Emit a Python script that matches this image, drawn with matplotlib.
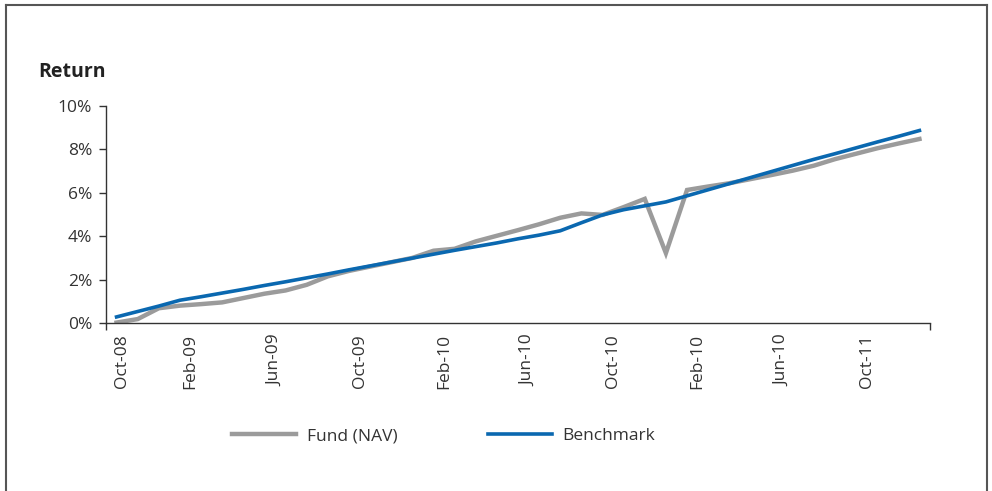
import matplotlib.pyplot as plt
from matplotlib.lines import Line2D
from matplotlib.ticker import FixedLocator, PercentFormatter

plt.rcParams['font.family'] = ['Open Sans', 'DejaVu Sans']

# monthly points, Oct-08 onwards (39 points)
fund = [0.02, 0.18, 0.68, 0.80, 0.87, 0.95, 1.15, 1.35, 1.50, 1.76,
        2.15, 2.40, 2.60, 2.80, 3.00, 3.33, 3.42, 3.76, 4.02, 4.28,
        4.55, 4.85, 5.05, 4.98, 5.34, 5.72, 3.22, 6.13, 6.29, 6.44,
        6.63, 6.82, 7.02, 7.25, 7.55, 7.80, 8.05, 8.27, 8.48]
bench = [0.28, 0.53, 0.78, 1.05, 1.21, 1.38, 1.55, 1.73, 1.90, 2.08,
         2.26, 2.45, 2.63, 2.81, 2.99, 3.17, 3.35, 3.52, 3.69, 3.88,
         4.05, 4.25, 4.62, 4.98, 5.22, 5.40, 5.58, 5.86, 6.14, 6.42,
         6.70, 6.98, 7.26, 7.54, 7.80, 8.07, 8.34, 8.60, 8.87]
tick_labels = ["Oct-08", "Feb-09", "Jun-09", "Oct-09", "Feb-10",
               "Jun-10", "Oct-10", "Feb-10", "Jun-10", "Oct-11"]

x = list(range(len(fund)))

fig = plt.figure(figsize=(9.92, 4.91), dpi=100)
ax = fig.add_axes([106 / 992, 1 - 323 / 491, 824 / 992, 217 / 491])

ax.plot(x, fund, color="#9b9b9b", lw=3.2, label="Fund (NAV)", solid_joinstyle="miter")
ax.plot(x, bench, color="#0a68b0", lw=2.6, label="Benchmark")

ax.set_xlim(-0.5, len(fund) - 0.5)
ax.set_ylim(0, 10)
ax.yaxis.set_major_locator(FixedLocator([0, 2, 4, 6, 8, 10]))
ax.yaxis.set_major_formatter(PercentFormatter(decimals=0))

# tick marks between categories every 4 months, labels every 4 months
ax.set_xticks([-0.5 + 4 * k for k in range(10)] + [len(fund) - 0.5], minor=True)
ax.set_xticks([0.25] + [3.5 + 4 * k for k in range(9)])
ax.set_xticklabels(tick_labels, rotation=90)
ax.tick_params(axis="x", which="major", length=0, pad=8)
ax.tick_params(axis="x", which="minor", length=5, width=1, color="#333333")
ax.tick_params(axis="y", length=5, width=1, color="#333333", pad=5)
ax.tick_params(labelsize=12.5, labelcolor="#333333")

for s in ["top", "right"]:
    ax.spines[s].set_visible(False)
for s in ["left", "bottom"]:
    ax.spines[s].set_color("#333333")
    ax.spines[s].set_linewidth(1)

fig.text(38 / 992, 1 - 72 / 491, "Return", fontsize=14, fontweight="bold",
         color="#222222", va="center", ha="left")

fig.legend(loc="center", bbox_to_anchor=(0.447, 1 - 436 / 491), ncol=2, frameon=False,
           fontsize=12.5, handlelength=3.7, handletextpad=0.6, columnspacing=5.2,
           labelcolor="#333333")

# outer frame (open at the bottom)
fc = "#555555"
fig.add_artist(Line2D([5.5 / 992, 5.5 / 992], [0, 1 - 5 / 491], color=fc, lw=1.5, transform=fig.transFigure))
fig.add_artist(Line2D([5.5 / 992, 987 / 992], [1 - 5 / 491, 1 - 5 / 491], color=fc, lw=1.5, transform=fig.transFigure))
fig.add_artist(Line2D([987 / 992, 987 / 992], [0, 1 - 5 / 491], color=fc, lw=1.5, transform=fig.transFigure))

fig.savefig("out.png", dpi=100)
